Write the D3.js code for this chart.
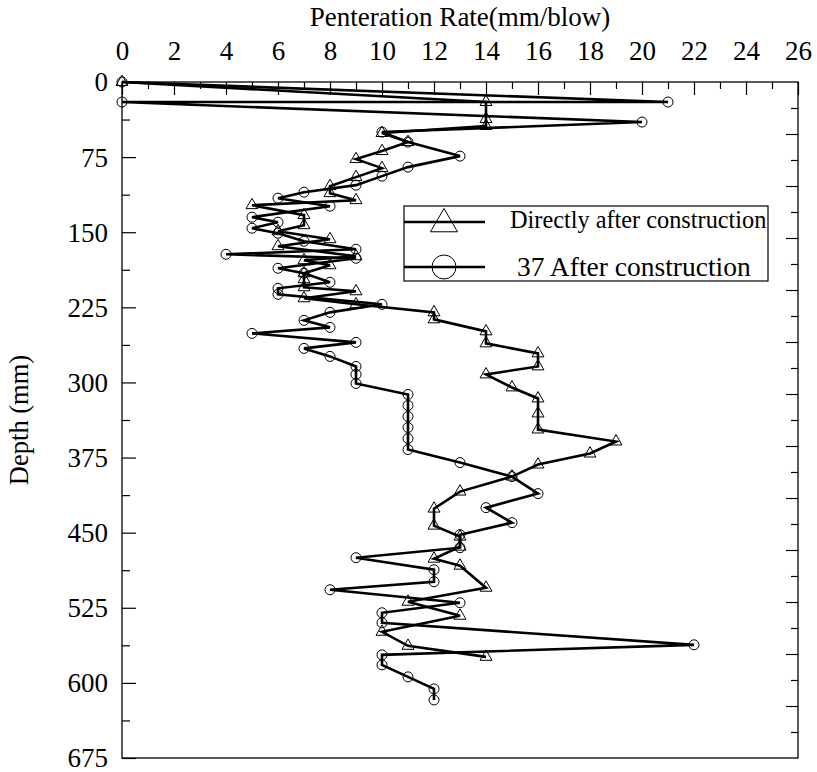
<!DOCTYPE html>
<html>
<head>
<meta charset="utf-8">
<script src="https://cdn.jsdelivr.net/npm/d3@7"></script>
<style>
  body { margin: 0; background: #fff; }
  text { font-family: "Liberation Serif", "Times New Roman", serif; fill: #000; }
</style>
</head>
<body>
<div id="chart"></div>
<script>
// --------------------------------------------------------------------------------------
// data - rate in mm/blow, depth in mm
// --------------------------------------------------------------------------------------
var xTicks = [0, 2, 4, 6, 8, 10, 12, 14, 16, 18, 20, 22, 24, 26];
var yTicks = [0, 75, 150, 225, 300, 375, 450, 525, 600, 675];

// directly after construction
var triRate  = [0, 14, 14, 14, 10, 11, 10, 9, 10, 9, 8, 8, 9, 5, 7, 7, 6, 8, 6, 9, 7, 8,
                7, 7, 7, 9, 7, 9, 12, 12, 14, 14, 16, 16, 14, 15, 16, 16, 16, 19, 18, 16,
                15, 13, 12, 12, 13, 13, 12, 13, 14, 11, 13, 10, 11, 14];
var triDepth = [0, 20, 37, 44, 51, 60, 69, 77, 86, 95, 104, 111, 118, 123, 133, 143, 149, 157, 164, 174, 178, 183,
                191, 197, 205, 209, 216, 222, 230, 237, 249, 261, 271, 284, 292, 305, 316, 331, 347, 359, 371, 382,
                394, 409, 426, 443, 454, 464, 476, 483, 505, 519, 533, 549, 563, 574];

// 37 after construction
var cirRate  = [0, 21, 0, 20, 10, 11, 13, 11, 10, 9, 7, 6, 8, 5, 6, 5, 6, 7, 9, 4, 9, 6, 7, 8,
                6, 6, 10, 8, 7, 8, 5, 9, 7, 8, 9, 9, 9, 11, 11, 11, 11, 11, 11, 13, 15, 16, 14, 15,
                13, 13, 9, 12, 12, 8, 13, 10, 10, 22, 10, 10, 11, 12, 12];
var cirDepth = [0, 20, 20, 40, 50, 60, 74, 85, 94, 103, 110, 116, 124, 135, 140, 146, 151, 159, 167, 172, 176, 186, 191, 200,
                206, 212, 222, 230, 238, 245, 251, 260, 266, 274, 284, 292, 301, 312, 323, 334, 345, 356, 367, 380, 394, 411, 425, 440,
                452, 465, 475, 487, 499, 507, 520, 530, 540, 562, 572, 582, 594, 606, 617];

var legendNames = ["Directly after construction", "37 After construction"];

// --------------------------------------------------------------------------------------
// build point lists
// --------------------------------------------------------------------------------------
function zip(rate, depth)
{
  return rate.map(function(r, i) { return { rate : r, depth : depth[i] }; });
}
// --------------------------------------------------------------------------------------
// draw the graph
// --------------------------------------------------------------------------------------
function graph()
{
  var W = 817, H = 772;
  var left = 122, right = 798, top = 82, bottom = 758;

  var svg = d3.select("#chart").append("svg")
      .attr("width", W)
      .attr("height", H);

  var x = d3.scaleLinear().domain([0, 26]).range([left, right]);
  var y = d3.scaleLinear().domain([0, 675]).range([top, bottom]);
  // right side ticks follow the top axis spacing
  var yr = d3.scaleLinear().domain([0, 26]).range([top, bottom]);

  var fs = "27px";

  // ==========================================================
  // top axis - labels on even, short ticks on odd
  var topAxis = svg.append("g")
      .attr("transform", "translate(0," + top + ")")
      .call(d3.axisTop(x).tickValues(xTicks).tickSize(-13).tickPadding(22).tickFormat(d3.format("d")));
  topAxis.selectAll("text").style("font-size", fs);

  svg.append("g")
      .attr("transform", "translate(0," + top + ")")
      .call(d3.axisTop(x).tickValues(d3.range(1, 26, 2)).tickSize(-7).tickFormat(""));

  // left axis
  var leftAxis = svg.append("g")
      .attr("transform", "translate(" + left + ",0)")
      .call(d3.axisLeft(y).tickValues(yTicks).tickSize(-14).tickPadding(14));
  leftAxis.selectAll("text").style("font-size", fs).attr("dy", "0.33em");

  svg.append("g")
      .attr("transform", "translate(" + left + ",0)")
      .call(d3.axisLeft(y).tickValues(d3.range(37.5, 675, 75)).tickSize(-8).tickFormat(""));

  // right axis, no labels
  svg.append("g")
      .attr("transform", "translate(" + right + ",0)")
      .call(d3.axisRight(yr).tickValues(d3.range(2, 26, 2)).tickSize(-12).tickFormat(""));
  svg.append("g")
      .attr("transform", "translate(" + right + ",0)")
      .call(d3.axisRight(yr).tickValues(d3.range(1, 26, 2)).tickSize(-7).tickFormat(""));

  svg.selectAll(".domain").remove();
  svg.selectAll(".tick line").attr("stroke", "#000").attr("stroke-width", 1.2);

  // frame
  svg.append("rect")
      .attr("x", left).attr("y", top)
      .attr("width", right - left).attr("height", bottom - top)
      .attr("fill", "none").attr("stroke", "#000").attr("stroke-width", 1.3);

  // titles
  svg.append("text")
      .attr("x", (left + right) / 2)
      .attr("y", 26)
      .attr("text-anchor", "middle")
      .style("font-size", fs)
      .text("Penteration Rate(mm/blow)");

  svg.append("text")
      .attr("transform", "translate(28," + ((top + bottom) / 2) + ") rotate(-90)")
      .attr("text-anchor", "middle")
      .style("font-size", "26.5px")
      .text("Depth (mm)");

  // ==========================================================
  // series
  var line = d3.line()
      .x(function(d) { return x(d.rate); })
      .y(function(d) { return y(d.depth); });

  var series = [
    { pts : zip(triRate, triDepth), sym : d3.symbolTriangle, size : 62 },
    { pts : zip(cirRate, cirDepth), sym : d3.symbolCircle, size : Math.PI * 25 }
  ];

  series.forEach(function(s) {
    svg.append("path")
        .datum(s.pts)
        .attr("d", line)
        .attr("fill", "none")
        .attr("stroke", "#000")
        .attr("stroke-width", 2.6)
        .attr("stroke-linejoin", "miter");

    svg.selectAll(null)
        .data(s.pts)
        .enter().append("path")
        .attr("transform", function(d) { return "translate(" + x(d.rate) + "," + y(d.depth) + ")"; })
        .attr("d", d3.symbol().type(s.sym).size(s.size))
        .attr("fill", "none")
        .attr("stroke", "#000")
        .attr("stroke-width", 1);
  });

  // ==========================================================
  // legend
  var lg = svg.append("g");
  lg.append("rect")
      .attr("x", 404).attr("y", 206)
      .attr("width", 364).attr("height", 75)
      .attr("fill", "#fff").attr("stroke", "#000").attr("stroke-width", 1.2);

  var rows = [
    { y : 222, sym : d3.symbolTriangle, size : 315, tx : 510, ty : 228, fs : "24.3px" },
    { y : 267, sym : d3.symbolCircle, size : Math.PI * 144, tx : 517, ty : 276, fs : "27.5px" }
  ];

  rows.forEach(function(r, i) {
    lg.append("line")
        .attr("x1", 404).attr("x2", 485)
        .attr("y1", r.y).attr("y2", r.y)
        .attr("stroke", "#000").attr("stroke-width", 2.6);
    lg.append("path")
        .attr("transform", "translate(444," + (i == 0 ? r.y + 2 : r.y) + ")")
        .attr("d", d3.symbol().type(r.sym).size(r.size))
        .attr("fill", "none").attr("stroke", "#000").attr("stroke-width", 1);
    lg.append("text")
        .attr("x", r.tx).attr("y", r.ty)
        .style("font-size", r.fs)
        .text(legendNames[i]);
  });
}
// --------------------------------------------------------------------------------------
graph();
// --------------------------------------------------------------------------------------
</script>
</body>
</html>
